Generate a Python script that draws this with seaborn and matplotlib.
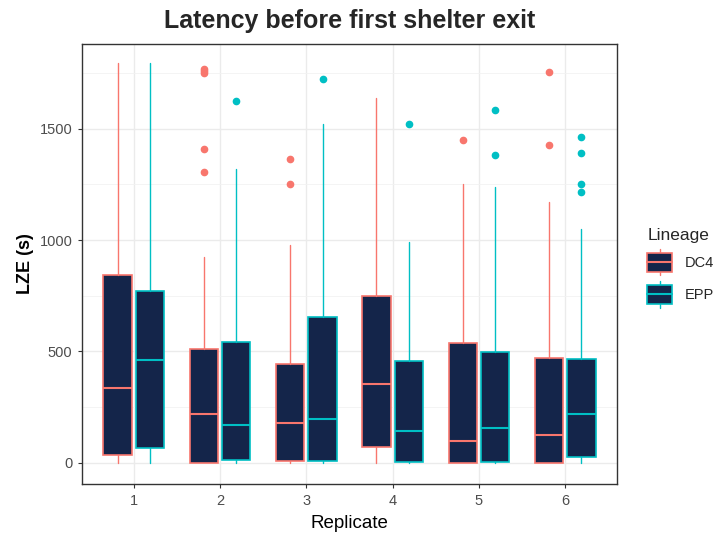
import numpy as np
import matplotlib
matplotlib.use("Agg")
import matplotlib.pyplot as plt
import seaborn as sns
from matplotlib.patches import Rectangle, Patch
from matplotlib.lines import Line2D
from matplotlib.legend_handler import HandlerBase

# ---- data ----
replicates = ["1", "2", "3", "4", "5", "6"]
lineages = ["DC4", "EPP"]

dc4_q1 = [35, 0, 6, 69, 0, 0]
dc4_med = [336, 219, 178, 354, 96, 125]
dc4_q3 = [841, 512, 444, 748, 537, 471]
dc4_lo = [0, 0, 0, 0, 0, 0]
dc4_hi = [1796, 925, 977, 1638, 1252, 1170]
dc4_out = [[], [1769, 1758, 1751, 1410, 1305], [1363, 1252], [], [1450], [1755, 1426]]

epp_q1 = [66, 12, 6, 4, 4, 27]
epp_med = [459, 167, 197, 144, 155, 219]
epp_q3 = [772, 542, 655, 455, 495, 467]
epp_lo = [0, 0, 0, 0, 0, 0]
epp_hi = [1796, 1318, 1521, 989, 1240, 1048]
epp_out = [[], [1626], [1725], [1521], [1586, 1380], [1462, 1392, 1252, 1216]]

colors = {"DC4": "#F8766D", "EPP": "#00BFC4"}
fill = "#14254A"

sns.set_theme(style="whitegrid")
plt.rcParams["font.family"] = ["Liberation Sans", "DejaVu Sans"]

fig = plt.figure(figsize=(7.16, 5.36), dpi=100)
ax = fig.add_axes([82 / 716, 1 - 484 / 536, (617 - 82) / 716, (484 - 43.5) / 536])

series = {
    "DC4": (dc4_q1, dc4_med, dc4_q3, dc4_lo, dc4_hi, dc4_out, -0.1875),
    "EPP": (epp_q1, epp_med, epp_q3, epp_lo, epp_hi, epp_out, 0.1875),
}

xpos = np.arange(1, len(replicates) + 1)
for lin in lineages:
    q1, med, q3, lo, hi, out, off = series[lin]
    col = colors[lin]
    stats = []
    for i in range(len(replicates)):
        stats.append(dict(med=med[i], q1=q1[i], q3=q3[i], whislo=lo[i], whishi=hi[i],
                          fliers=out[i], label=replicates[i]))
    ax.bxp(stats, positions=xpos + off, widths=0.33, patch_artist=True, showcaps=False,
           boxprops=dict(facecolor=fill, edgecolor=col, linewidth=1.2),
           medianprops=dict(color=col, linewidth=1.5),
           whiskerprops=dict(color=col, linewidth=1.0),
           flierprops=dict(marker="o", markerfacecolor=col, markeredgecolor=col,
                           markersize=4.5, linestyle="none"),
           manage_ticks=False, zorder=3)

ax.set_xlim(0.4, 6.6)
ax.set_ylim(-96, 1883)
ax.set_xticks(xpos)
ax.set_xticklabels(replicates)
ax.set_yticks([0, 500, 1000, 1500])
ax.set_yticks([250, 750, 1250, 1750], minor=True)
ax.set_facecolor("white")
ax.grid(True, which="major", color="#EBEBEB", linewidth=1.0, zorder=0)
ax.grid(True, which="minor", axis="y", color="#F2F2F2", linewidth=0.6, zorder=0)
ax.set_axisbelow(True)
for s in ax.spines.values():
    s.set_color("#333333")
    s.set_linewidth(1.0)
ax.tick_params(axis="both", which="major", length=3, width=0.8, color="#333333",
               labelsize=10.5, labelcolor="#4D4D4D", pad=4, left=True, bottom=True)
ax.tick_params(axis="both", which="minor", length=0)

ax.set_xlabel("Replicate", fontsize=13.5, color="black", labelpad=5)
ax.set_ylabel("LZE (s)", fontsize=13, fontweight="bold", color="black", labelpad=4)
fig.text((82 + 617) / 2 / 716, 1 - 21 / 536, "Latency before first shelter exit",
         ha="center", va="center", fontsize=18, fontweight="bold")


class BoxHandler(HandlerBase):
    def create_artists(self, legend, orig_handle, xdescent, ydescent, width, height,
                       fontsize, trans):
        col = orig_handle.get_edgecolor()
        x0, y0 = -xdescent, -ydescent
        bh = height * 0.72
        by = y0 + (height - bh) / 2
        cx = x0 + width / 2
        arts = [
            Line2D([cx, cx], [y0, by], color=col, lw=1.0),
            Line2D([cx, cx], [by + bh, y0 + height], color=col, lw=1.0),
            Rectangle((x0, by), width, bh, facecolor=fill, edgecolor=col, lw=1.2),
            Line2D([x0, x0 + width], [by + bh / 2, by + bh / 2], color=col, lw=1.5),
        ]
        for a in arts:
            a.set_transform(trans)
        return arts


handles = [Patch(facecolor=fill, edgecolor=colors[l]) for l in lineages]
leg = fig.legend(handles, lineages, handler_map={Patch: BoxHandler()},
                 loc="upper left", bbox_to_anchor=(640 / 716, 1 - 221 / 536),
                 title="Lineage", frameon=False, fontsize=10.5, title_fontsize=12.5,
                 handlelength=1.7, handleheight=2.4, handletextpad=0.9, labelspacing=0.4,
                 borderaxespad=0, borderpad=0.5, alignment="left")

fig.savefig("out.png", dpi=100)
